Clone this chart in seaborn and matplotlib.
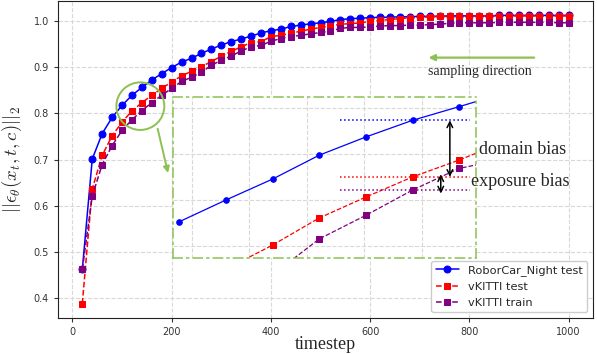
import numpy as np
import pandas as pd
import matplotlib
matplotlib.use("Agg")
import matplotlib.pyplot as plt
from matplotlib.patches import Ellipse
import seaborn as sns

# timesteps
timestep = list(range(20, 1001, 20))

robocar_night_test = [
    0.462, 0.701, 0.756, 0.791, 0.817, 0.839, 0.856, 0.872, 0.886, 0.899,
    0.911, 0.919, 0.930, 0.939, 0.948, 0.955, 0.961, 0.967, 0.974, 0.979,
    0.982, 0.988, 0.991, 0.994, 0.996, 0.999, 1.003, 1.005, 1.006, 1.007,
    1.008, 1.008, 1.009, 1.009, 1.010, 1.010, 1.010, 1.011, 1.011, 1.011,
    1.011, 1.011, 1.012, 1.012, 1.012, 1.012, 1.012, 1.012, 1.012, 1.012,
]
vkitti_test = [
    0.388, 0.636, 0.709, 0.751, 0.781, 0.805, 0.823, 0.839, 0.854, 0.868,
    0.881, 0.891, 0.901, 0.912, 0.924, 0.934, 0.944, 0.953, 0.955, 0.966,
    0.969, 0.973, 0.978, 0.982, 0.986, 0.989, 0.993, 0.994, 0.996, 0.999,
    1.001, 1.003, 1.005, 1.007, 1.008, 1.009, 1.010, 1.010, 1.011, 1.011,
    1.011, 1.011, 1.011, 1.011, 1.011, 1.011, 1.011, 1.011, 1.011, 1.011,
]
vkitti_train = [
    0.462, 0.621, 0.689, 0.730, 0.763, 0.786, 0.806, 0.823, 0.839, 0.854,
    0.869, 0.878, 0.889, 0.904, 0.915, 0.924, 0.935, 0.944, 0.947, 0.956,
    0.962, 0.966, 0.969, 0.972, 0.975, 0.978, 0.984, 0.986, 0.986, 0.987,
    0.989, 0.990, 0.990, 0.991, 0.991, 0.992, 0.993, 0.995, 0.996, 0.996,
    0.996, 0.996, 0.997, 0.997, 0.997, 0.997, 0.997, 0.997, 0.996, 0.996,
]

# zoomed-in view (inset)
inset_t = [100, 120, 140, 160, 180, 200, 220, 240]
inset_blue = [0.8134, 0.8215, 0.8293, 0.8382, 0.8450, 0.8512, 0.8563, 0.8615]
inset_red = [None, 0.7957, 0.8047, 0.8148, 0.8226, 0.8301, 0.8364, 0.8434]
inset_purple = [None, None, 0.7936, 0.8070, 0.8158, 0.8252, 0.8333, 0.8368]

green = "#8cc152"
dashdot = (0, (6, 3, 1.2, 3))

sns.set_style("whitegrid", {
    "grid.linestyle": "--",
    "grid.color": "#d8d8d8",
    "axes.edgecolor": "#222222",
    "xtick.bottom": True,
    "ytick.left": True,
})
plt.rcParams["mathtext.fontset"] = "cm"

fig = plt.figure(figsize=(5.97, 3.54), dpi=100)
ax = fig.add_axes([58 / 597, 1 - 318 / 354, 535 / 597, 317 / 354])

df = pd.DataFrame({
    "timestep": timestep,
    "blue": robocar_night_test,
    "red": vkitti_test,
    "purple": vkitti_train,
})

sns.lineplot(data=df, x="timestep", y="blue", ax=ax, color="blue", marker="o",
             markersize=5, mec="blue", linewidth=1.1, label="RoborCar_Night test")
sns.lineplot(data=df, x="timestep", y="red", ax=ax, color="red", marker="s",
             markersize=4.7, mec="red", linewidth=1.1, linestyle="--", label="vKITTI test")
sns.lineplot(data=df, x="timestep", y="purple", ax=ax, color="purple", marker="s",
             markersize=4.7, mec="purple", linewidth=1.1, linestyle="--", label="vKITTI train")

ax.set_xticks([0, 200, 400, 600, 800, 1000])
ax.set_yticks([0.4, 0.5, 0.6, 0.7, 0.8, 0.9, 1.0])
ax.tick_params(labelsize=7, colors="#333333", length=3, width=0.8)
ax.grid(True, linestyle="--", color="#d8d8d8", linewidth=0.8)
ax.set_xlabel("timestep", fontfamily="Liberation Serif", fontsize=13, labelpad=-1)
ax.set_ylabel(r"$||\epsilon_\theta(x_t, t, c)||_2$", fontsize=13.5, labelpad=7)
ax.legend(loc="lower right", fontsize=8.2, framealpha=1, edgecolor="#cccccc")

# circle + arrow towards zoom box
ax.add_patch(Ellipse((136.9, 0.8155), 96.6, 0.103, fill=False, edgecolor=green, linewidth=1.4, zorder=5))
ax.annotate("", xy=(194, 0.665), xytext=(170.5, 0.7725),
            arrowprops=dict(arrowstyle="-|>", color=green, lw=1.4, mutation_scale=9))

# sampling direction
ax.annotate("", xy=(712, 0.9206), xytext=(936, 0.9206),
            arrowprops=dict(arrowstyle="-|>", color=green, lw=1.6, mutation_scale=9))
ax.text(821, 0.8906, "sampling direction", fontfamily="Liberation Serif", fontsize=10,
        ha="center", va="center")

# inset
axin = fig.add_axes([172.7 / 597, 1 - 257.7 / 354, 303.3 / 597, 161 / 354])
axin.set_facecolor("white")
sns.lineplot(x=inset_t, y=inset_blue, ax=axin, color="blue", marker="o",
             markersize=4, mec="blue", linewidth=0.9)
sns.lineplot(x=inset_t, y=[np.nan if v is None else v for v in inset_red], ax=axin, color="red",
             marker="s", markersize=3.8, mec="red", linewidth=0.9, linestyle="--")
sns.lineplot(x=inset_t, y=[np.nan if v is None else v for v in inset_purple], ax=axin, color="purple",
             marker="s", markersize=3.8, mec="purple", linewidth=0.9, linestyle="--")
axin.set_xlim(97.2, 227.2)
axin.set_ylim(0.80, 0.86)
axin.set_xticks(np.arange(105.3, 227, 24.7))
axin.set_yticks([0.80436, 0.8215, 0.8386, 0.8557])
axin.tick_params(length=0, labelbottom=False, labelleft=False)
axin.set_xlabel("")
axin.set_ylabel("")
axin.grid(True, linestyle="--", color="#d8d8d8", linewidth=0.8)
for sp in axin.spines.values():
    sp.set_edgecolor(green)
    sp.set_linestyle(dashdot)
    sp.set_linewidth(1.1)

axin.hlines(inset_blue[5], 168.8, 224.8, colors="blue", linestyles=":", linewidth=1.1)
axin.hlines(inset_red[5], 168.8, 224.8, colors="red", linestyles=":", linewidth=1.1)
axin.hlines(inset_purple[5], 168.8, 224.8, colors="purple", linestyles=":", linewidth=1.1)
axin.annotate("", xy=(216.0, inset_blue[5]), xytext=(216.0, inset_red[5]),
              arrowprops=dict(arrowstyle="<->", color="black", lw=1.1, shrinkA=0, shrinkB=0))
axin.annotate("", xy=(212.1, inset_red[5] + 0.001), xytext=(212.1, inset_purple[5] - 0.0013),
              arrowprops=dict(arrowstyle="<->", color="black", lw=1.1, shrinkA=0, shrinkB=0))

fig.text(479 / 597, 1 - 150 / 354, "domain bias", fontfamily="Liberation Serif",
         fontsize=13, ha="left", va="center")
fig.text(471 / 597, 1 - 182 / 354, "exposure bias", fontfamily="Liberation Serif",
         fontsize=13, ha="left", va="center")

fig.savefig("out.png", dpi=100)
